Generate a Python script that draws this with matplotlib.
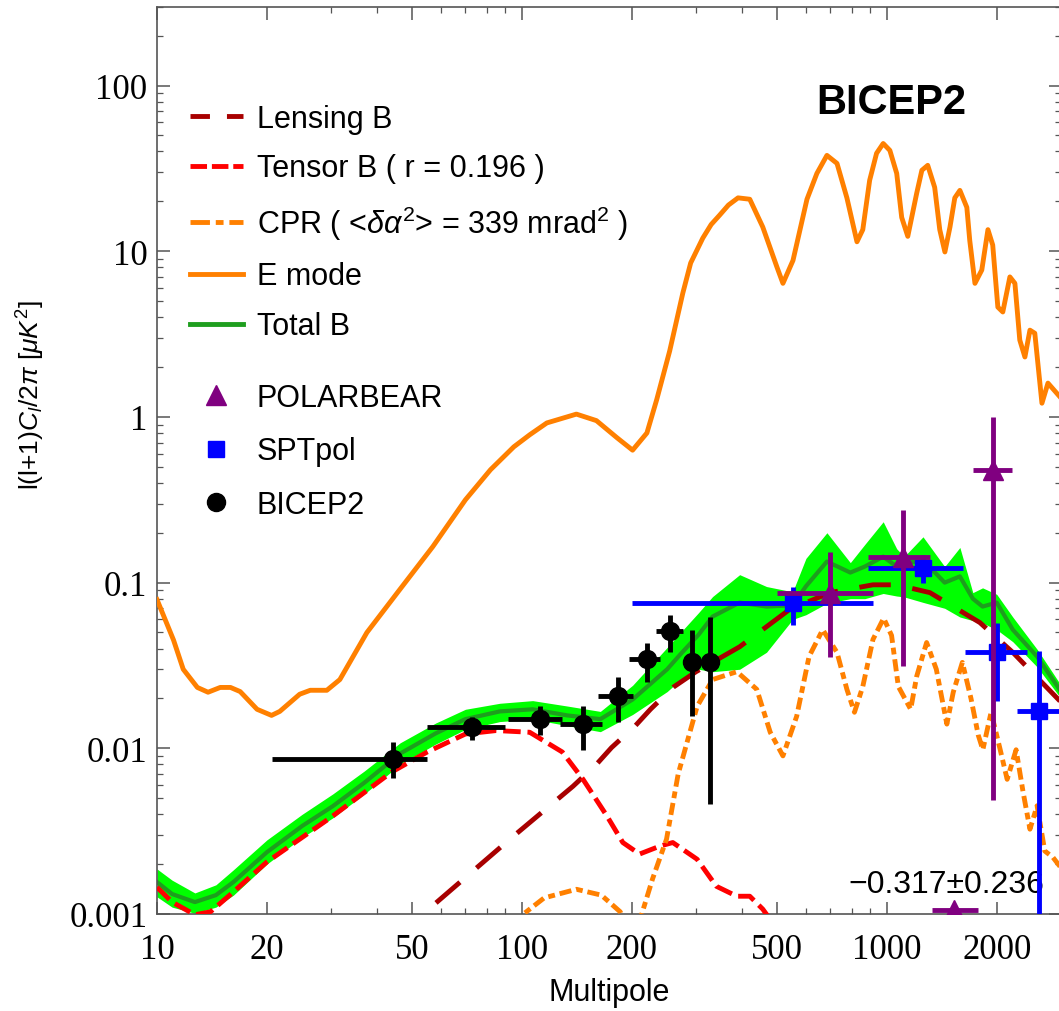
import numpy as np
import matplotlib
matplotlib.use('Agg')
import matplotlib.pyplot as plt
from matplotlib.lines import Line2D
from matplotlib.ticker import NullFormatter, LogLocator

plt.rcParams['font.family'] = ['Liberation Sans', 'DejaVu Sans']
plt.rcParams['mathtext.fontset'] = 'custom'
plt.rcParams['mathtext.rm'] = 'Liberation Sans'
plt.rcParams['mathtext.it'] = 'Liberation Sans:italic'

# ---- E mode ----
ell_e = [10, 11.1, 11.8, 12.9, 13.8, 14.9, 15.9, 16.9, 18.8, 20.6, 21.7, 24.6, 26.3, 29.2,
         31.7, 37.6, 46.3, 57, 70, 82, 95, 105, 117, 141, 160, 182, 201, 220, 234, 254,
         276, 290, 313, 330, 348, 368, 391, 421, 457, 500, 519, 553, 604, 643, 685, 730, 777, 828,
         859, 897, 937, 977, 1019, 1064, 1098, 1141, 1207, 1247, 1294, 1352, 1396, 1442,
         1489, 1535, 1585, 1656, 1687, 1743, 1820, 1892, 1950, 2014, 2078, 2173, 2243,
         2313, 2389, 2466, 2543, 2660, 2763, 3000]
cl_e = [0.079, 0.045, 0.030, 0.0233, 0.0218, 0.0233, 0.0233, 0.022, 0.0172, 0.0158, 0.0167,
        0.0212, 0.0224, 0.0224, 0.026, 0.050, 0.091, 0.165, 0.316, 0.48, 0.66, 0.78, 0.92,
        1.04, 0.95, 0.75, 0.63, 0.80, 1.27, 2.5, 5.6, 8.5, 12.0, 14.5, 16.5, 19.0, 21, 20.6, 14, 8.0,
        6.4, 8.8, 20.6, 29.5, 37.9, 33.9, 21, 11.4, 13.5, 26.8, 39, 44.7, 40.6, 29.5, 16,
        12.3, 22.4, 30.8, 33, 24.3, 13.5, 9.9, 14, 21, 23.3, 18.4, 11.6, 6.4, 7.7, 13.5,
        10.9, 4.6, 4.3, 7.0, 6.4, 2.91, 2.3, 3.34, 3.2, 1.21, 1.6, 1.3]

# ---- Lensing B ----
ell_lens = [45, 53.6, 92.7, 138, 160, 176, 204, 225, 260, 300, 395, 540, 698, 916, 1064,
            1312, 1798, 2214, 3000]
cl_lens = [0.00072, 0.001, 0.00283, 0.0059, 0.0080, 0.0101, 0.0136, 0.0172, 0.0234, 0.029,
           0.041, 0.0686, 0.087, 0.097, 0.097, 0.087, 0.0574, 0.0379, 0.019]

# ---- Tensor B (r = 0.196) ----
ell_tens = [10, 11, 12.7, 14, 16.2, 20, 25, 30.3, 44, 55, 70, 85, 105, 129, 147, 171, 189,
            210, 239, 259, 302, 341, 388, 421, 457, 480, 520]
cl_tens = [0.00145, 0.00118, 0.00099, 0.00103, 0.00136, 0.00206, 0.0029, 0.0039, 0.0072,
           0.0095, 0.0122, 0.0128, 0.0125, 0.0095, 0.0065, 0.0039, 0.0027, 0.0023, 0.00257,
           0.0027, 0.00214, 0.00147, 0.00128, 0.00128, 0.00107, 0.00092, 0.0007]

# ---- CPR ----
ell_cpr = [95, 101, 115, 141, 165, 186, 198, 213, 228, 249, 268, 302, 333, 388, 440, 479,
           519, 566, 612, 667, 730, 777, 815, 859, 916, 980, 1030, 1075, 1162, 1207, 1285,
           1366, 1460, 1520, 1610, 1700, 1780, 1832, 1930, 2040, 2136, 2260, 2360, 2466,
           2580, 2708, 2850, 3000]
cl_cpr = [0.00085, 0.001, 0.00125, 0.00141, 0.0013, 0.00103, 0.0007, 0.001, 0.00163, 0.00283,
          0.007, 0.0179, 0.026, 0.029, 0.0227, 0.0125, 0.0090, 0.0156, 0.0358, 0.052, 0.0379,
          0.0227, 0.0165, 0.0236, 0.0454, 0.061, 0.048, 0.0236, 0.0172, 0.0272, 0.0435,
          0.030, 0.014, 0.0218, 0.033, 0.020, 0.012, 0.0098, 0.0165, 0.010, 0.0065, 0.0098,
          0.0055, 0.00325, 0.0045, 0.0024, 0.0022, 0.0019]

# ---- Total B with band ----
ell_tot = [10, 11, 12.7, 14.5, 16.2, 20, 25, 30.3, 37, 46.4, 58, 70, 87, 107, 133, 164, 201,
           250, 272, 305, 333, 395, 468, 552, 600, 685, 794, 870, 977, 1064, 1115, 1256,
           1440, 1585, 1720, 1829, 2000, 2213, 2580, 3000]
cl_tot = [0.00156, 0.00132, 0.00118, 0.0013, 0.00156, 0.00236, 0.0034, 0.00447, 0.0062,
          0.0093, 0.0123, 0.015, 0.0167, 0.0172, 0.0158, 0.015, 0.0197, 0.030, 0.037, 0.0486,
          0.0624, 0.0758, 0.0717, 0.073, 0.095, 0.134, 0.115, 0.125, 0.1435, 0.125, 0.13,
          0.137, 0.10, 0.109, 0.08, 0.0717, 0.0758, 0.052, 0.0358, 0.022]
cl_tot_lo = [0.00127, 0.0011, 0.00101, 0.0011, 0.0013, 0.002, 0.0029, 0.0038, 0.0053, 0.008,
             0.0106, 0.013, 0.0145, 0.015, 0.0137, 0.0126, 0.016, 0.022, 0.026, 0.030, 0.029,
             0.030, 0.038, 0.060, 0.064, 0.075, 0.080, 0.080, 0.086, 0.083, 0.082, 0.076,
             0.070, 0.062, 0.059, 0.057, 0.052, 0.044, 0.031, 0.020]
cl_tot_hi = [0.00187, 0.0016, 0.00134, 0.0015, 0.00185, 0.0028, 0.004, 0.0053, 0.0073, 0.0108,
             0.0142, 0.0172, 0.0187, 0.0194, 0.018, 0.0167, 0.024, 0.0406, 0.050, 0.066,
             0.0824, 0.1117, 0.0947, 0.088, 0.14, 0.20, 0.132, 0.17, 0.233, 0.16, 0.1435,
             0.189, 0.125, 0.163, 0.087, 0.093, 0.085, 0.062, 0.0396, 0.024]

# ---- BICEP2 ----
b2_ell = [44.4, 73, 112, 147, 183, 220, 254, 292, 327]
b2_val = [0.0086, 0.0134, 0.0150, 0.0140, 0.0206, 0.0344, 0.0507, 0.0334, 0.033]
b2_ell_lo = [20.7, 55, 91.5, 127, 162, 197, 233, 292, 327]
b2_ell_hi = [55, 90, 129, 166, 201, 239, 276, 292, 327]
b2_lo = [0.0066, 0.0113, 0.0121, 0.0098, 0.0145, 0.025, 0.0379, 0.0156, 0.0046]
b2_hi = [0.0109, 0.0154, 0.0179, 0.0179, 0.0268, 0.0435, 0.064, 0.052, 0.0624]

# ---- SPTpol ----
spt_ell = [552, 1256, 2000, 2606]
spt_val = [0.0758, 0.123, 0.0379, 0.0167]
spt_ell_lo = [200, 887, 1640, 2271]
spt_ell_hi = [916, 1614, 2421, 3000]
spt_lo = [0.0558, 0.100, 0.0192, 1e-5]
spt_hi = [0.0947, 0.147, 0.0574, 0.0384]

# ---- POLARBEAR ----
pb_ell = [698, 1106, 1950]
pb_val = [0.087, 0.1435, 0.48]
pb_ell_lo = [500, 887, 1720]
pb_ell_hi = [916, 1312, 2198]
pb_lo = [0.0358, 0.0312, 0.0049]
pb_hi = [0.152, 0.275, 1.0]
pb_neg_ell, pb_neg_ell_lo, pb_neg_ell_hi = 1528, 1329, 1774
pb_neg_val, pb_neg_err = -0.317, 0.236

ORANGE = '#ff8000'
LENS = '#a80000'
TENS = '#ff0000'
GREEN = '#1e9e1e'
LIME = '#00ff00'
PURPLE = '#800080'
BLUE = '#0000ff'


def asym(c, lo, hi):
	c = np.array(c)
	return np.vstack([c - np.array(lo), np.array(hi) - c])


fig = plt.figure(figsize=(10.59, 10.12), dpi=100)
ax = fig.add_axes([157 / 1059, 97 / 1012, 904 / 1059, 907.5 / 1012])
ax.set_xscale('log')
ax.set_yscale('log')

ax.fill_between(ell_tot, cl_tot_lo, cl_tot_hi, color=LIME, lw=0, zorder=1)
ax.plot(ell_tot, cl_tot, color=GREEN, lw=3, zorder=2)
ax.plot(ell_lens, cl_lens, color=LENS, lw=3.5, ls=(0, (6.5, 4.5)), zorder=3)
ax.plot(ell_tens, cl_tens, color=TENS, lw=3.5, ls=(0, (3.6, 1.4)), zorder=3)
ax.plot(ell_cpr, cl_cpr, color=ORANGE, lw=3.5, ls=(0, (2.5, 1.0, 1.4, 1.0)), zorder=3)
ax.plot(ell_e, cl_e, color=ORANGE, lw=3.5, zorder=3)

ax.errorbar(b2_ell, b2_val, xerr=asym(b2_ell, b2_ell_lo, b2_ell_hi),
            yerr=asym(b2_val, b2_lo, b2_hi), fmt='o', color='k', ms=13,
            elinewidth=3.5, capsize=0, zorder=5)
ax.errorbar(spt_ell, spt_val, xerr=asym(spt_ell, spt_ell_lo, spt_ell_hi),
            yerr=asym(spt_val, spt_lo, spt_hi), fmt='s', color=BLUE, ms=11,
            elinewidth=3.5, capsize=0, zorder=6)
ax.errorbar(pb_ell, pb_val, xerr=asym(pb_ell, pb_ell_lo, pb_ell_hi),
            yerr=asym(pb_val, pb_lo, pb_hi), fmt='^', color=PURPLE, ms=14,
            elinewidth=3.5, capsize=0, zorder=7)
# negative POLARBEAR bandpower sits on the bottom edge
ax.errorbar([pb_neg_ell], [1.06e-3], xerr=[[pb_neg_ell - pb_neg_ell_lo], [pb_neg_ell_hi - pb_neg_ell]],
            fmt='^', color=PURPLE, ms=14, elinewidth=3.5, capsize=0, zorder=7)
ax.text(0.982, 0.024, '\u2212%.3f\u00b1%.3f' % (-pb_neg_val, pb_neg_err), transform=ax.transAxes,
        ha='right', va='baseline', fontsize=23)

ax.text(0.812, 0.895, 'BICEP2', transform=ax.transAxes, ha='center', va='center',
        fontsize=30, fontweight='bold')

ax.set_xlim(10, 3000)
ax.set_ylim(0.001, 300)
xt = [10, 20, 50, 100, 200, 500, 1000, 2000]
ax.set_xticks(xt, labels=[str(v) for v in xt])
yt = [0.001, 0.01, 0.1, 1, 10, 100]
ax.set_yticks(yt, labels=['0.001', '0.01', '0.1', '1', '10', '100'])
ax.xaxis.set_minor_locator(LogLocator(base=10, subs=np.arange(2, 10)))
ax.yaxis.set_minor_locator(LogLocator(base=10, subs=np.arange(2, 10)))
ax.xaxis.set_minor_formatter(NullFormatter())
ax.yaxis.set_minor_formatter(NullFormatter())
ax.tick_params(which='both', direction='in', top=True, right=True, color='#555555')
ax.tick_params(which='major', length=9, width=1.1)
ax.tick_params(which='minor', length=4.5, width=0.9)
ax.tick_params(axis='x', which='major', pad=14, labelsize=25)
ax.tick_params(axis='y', which='major', pad=7, labelsize=25)
plt.setp(ax.get_xticklabels() + ax.get_yticklabels(), family='Liberation Serif')
for s in ax.spines.values():
	s.set_color('#555555')
	s.set_linewidth(1.2)

ax.set_xlabel('Multipole', fontsize=22)
ax.xaxis.set_label_coords(0.5, -0.069)
ax.set_ylabel(r'l(l+1)$C_l/2\pi$ [$\mu K^2$]', fontsize=19)
ax.yaxis.set_label_coords(-0.122, 0.573)

line_handles = [
	Line2D([], [], color=LENS, lw=3.5, ls=(0, (4, 3.5))),
	Line2D([], [], color=TENS, lw=3.5, ls=(0, (3.4, 1.0))),
	Line2D([], [], color=ORANGE, lw=3.5, ls=(0, (4, 1.2, 1.6, 1.2))),
	Line2D([], [], color=ORANGE, lw=3.5),
	Line2D([], [], color=GREEN, lw=3.5),
]
line_labels = ['Lensing B', 'Tensor B ( r = 0.196 )',
               r'CPR ( <$\delta\alpha^2$> = 339 mrad$^2$ )', 'E mode', 'Total B']
leg1 = ax.legend(line_handles, line_labels, loc='upper left', bbox_to_anchor=(0.036, 0.893),
                 frameon=False, fontsize=22, handlelength=1.75, handletextpad=0.45,
                 labelspacing=0.65, borderpad=0, borderaxespad=0)
ax.add_artist(leg1)
mark_handles = [
	Line2D([], [], color=PURPLE, marker='^', ls='none', ms=14),
	Line2D([], [], color=BLUE, marker='s', ls='none', ms=11),
	Line2D([], [], color='k', marker='o', ls='none', ms=13),
]
ax.legend(mark_handles, ['POLARBEAR', 'SPTpol', 'BICEP2'], loc='upper left',
          bbox_to_anchor=(0.036, 0.585), frameon=False, fontsize=22, handlelength=1.75,
          handletextpad=0.45, labelspacing=0.76, borderpad=0, borderaxespad=0)

fig.savefig('out.png', dpi=100)
